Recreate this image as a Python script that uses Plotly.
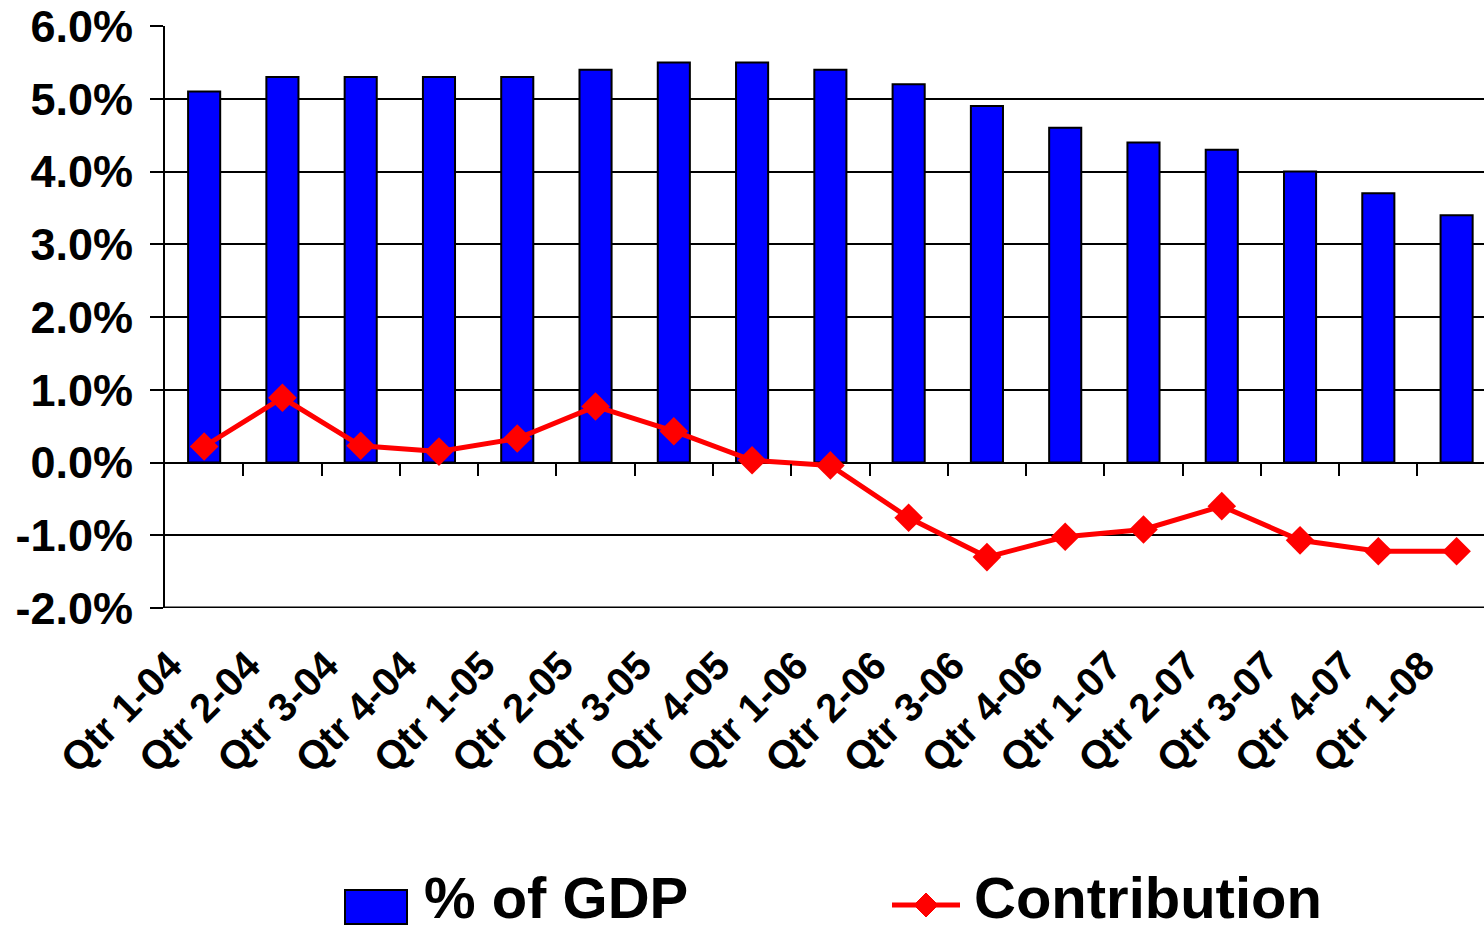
import plotly.graph_objects as go

categories = ["Qtr 1-04", "Qtr 2-04", "Qtr 3-04", "Qtr 4-04", "Qtr 1-05", "Qtr 2-05",
              "Qtr 3-05", "Qtr 4-05", "Qtr 1-06", "Qtr 2-06", "Qtr 3-06", "Qtr 4-06",
              "Qtr 1-07", "Qtr 2-07", "Qtr 3-07", "Qtr 4-07", "Qtr 1-08"]
pct_gdp = [5.1, 5.3, 5.3, 5.3, 5.3, 5.4, 5.5, 5.5, 5.4, 5.2, 4.9, 4.6, 4.4, 4.3, 4.0, 3.7, 3.4]
contribution = [0.22, 0.89, 0.23, 0.15, 0.33, 0.77, 0.43, 0.03, -0.04, -0.76, -1.30,
                -1.02, -0.92, -0.60, -1.07, -1.22, -1.22]
y_ticks = [-2, -1, 0, 1, 2, 3, 4, 5, 6]
y_tick_text = ["-2.0%", "-1.0%", "0.0%", "1.0%", "2.0%", "3.0%", "4.0%", "5.0%", "6.0%"]
series_names = ["% of GDP", "Contribution"]
bar_color = "#0000FF"
line_color = "#FF0000"

idx = list(range(len(categories)))
boundaries = [i + 0.5 for i in idx[:-1]]
font = "Liberation Sans, Arial, sans-serif"

W, H = 1484, 932
ML, MR, MT, MB = 165, 0, 26, 324
PW, PH = W - ML - MR, H - MT - MB


def px(xp):
    return (xp - ML) / PW


def py(yp):
    return (H - MB - yp) / PH


fig = go.Figure()
fig.add_trace(go.Bar(
    x=idx, y=pct_gdp, name=series_names[0], width=0.41,
    marker=dict(color=bar_color, line=dict(color="black", width=2)),
))
fig.add_trace(go.Scatter(
    x=idx, y=contribution, name=series_names[1], mode="lines+markers",
    line=dict(color=line_color, width=5),
    marker=dict(symbol="diamond", size=22, color=line_color),
))
fig.add_trace(go.Scatter(x=[0], y=[0], xaxis="x2", yaxis="y", mode="markers",
                         marker=dict(opacity=0), showlegend=False, hoverinfo="skip"))

zero_pos = (0 - (-2)) / (6 - (-2))

fig.update_layout(
    width=W, height=H,
    margin=dict(l=ML, r=MR, t=MT, b=MB, autoexpand=False),
    plot_bgcolor="white", paper_bgcolor="white",
    font=dict(family=font, color="black"),
    showlegend=False,
    xaxis=dict(
        range=[-0.5, 16.35], tickmode="array", tickvals=idx, ticktext=categories,
        tickangle=-45, ticks="", showgrid=False, showline=False, zeroline=False,
        tickfont=dict(size=40, family=font, weight="bold"),
        ticklabelstandoff=25, ticklabelshift=-34, automargin=False,
    ),
    xaxis2=dict(
        range=[-0.5, 16.35], overlaying="x", anchor="free", position=zero_pos,
        side="bottom", tickmode="array", tickvals=boundaries, ticks="outside",
        ticklen=12, tickwidth=2, tickcolor="black", showticklabels=False,
        showgrid=False, showline=False, zeroline=False, automargin=False,
    ),
    yaxis=dict(
        range=[-2, 6], tickmode="array", tickvals=y_ticks, ticktext=y_tick_text,
        showgrid=True, gridcolor="black", gridwidth=2,
        zeroline=True, zerolinecolor="black", zerolinewidth=2,
        showline=True, linecolor="black", linewidth=2,
        ticks="outside", ticklen=13, tickwidth=2, tickcolor="black",
        tickfont=dict(size=45, family=font, weight="bold"),
        ticklabelstandoff=8, automargin=False,
    ),
)

fig.add_shape(type="line", xref="paper", yref="y", x0=0, x1=1, y0=-2, y1=-2,
              line=dict(color="black", width=3))

# Legend (drawn manually to match the large swatches)
fig.add_shape(type="rect", xref="paper", yref="paper",
              x0=px(345), x1=px(407), y0=py(924), y1=py(890),
              fillcolor=bar_color, line=dict(color="black", width=2))
fig.add_annotation(text=series_names[0], xref="paper", yref="paper", x=px(422), y=py(932),
                   xanchor="left", yanchor="bottom", showarrow=False,
                   font=dict(size=58, family=font, weight="bold", color="black"))
fig.add_shape(type="line", xref="paper", yref="paper",
              x0=px(892), x1=px(960), y0=py(905), y1=py(905),
              line=dict(color=line_color, width=5))
fig.add_shape(type="path", xref="paper", yref="paper",
              path=f"M {px(926-12)},{py(905)} L {px(926)},{py(893)} L {px(926+12)},{py(905)} L {px(926)},{py(917)} Z",
              fillcolor=line_color, line=dict(color=line_color, width=1))
fig.add_annotation(text=series_names[1], xref="paper", yref="paper", x=px(972), y=py(932),
                   xanchor="left", yanchor="bottom", showarrow=False,
                   font=dict(size=58, family=font, weight="bold", color="black"))

fig.write_html("out.html", config={"displayModeBar": False},
               post_script="document.body.style.margin='0';document.body.style.overflow='hidden';")
